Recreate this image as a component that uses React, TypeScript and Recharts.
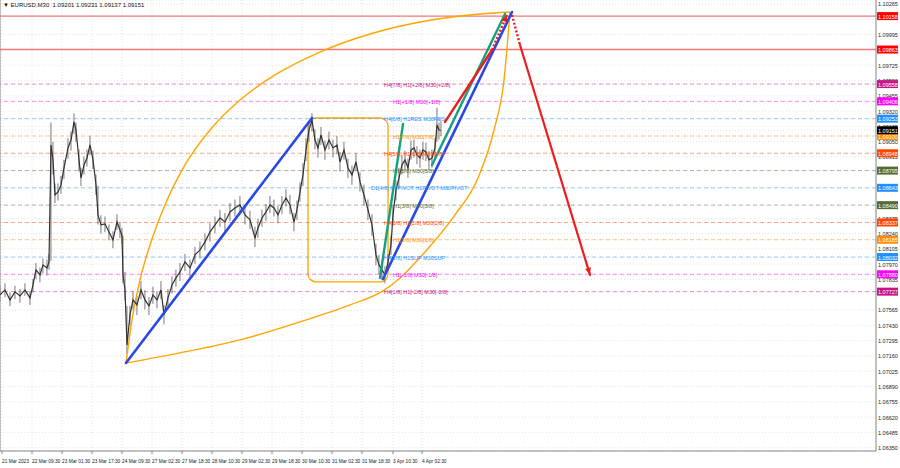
import React from 'react'
import {
  ComposedChart,
  Line,
  Bar,
  XAxis,
  YAxis,
  CartesianGrid,
  ReferenceLine,
  ReferenceArea,
  ReferenceDot,
} from 'recharts'

// M30 candles, sampled: x = bar slot on the chart
const barX = [
  0, 5, 10, 15, 20, 25, 30, 33, 36, 40, 43, 47, 49, 51, 53, 55, 58, 61, 64, 68,
  71, 74, 76, 79, 81, 84, 87, 90, 93, 96, 98, 101, 105, 109, 113, 117, 120, 122, 123, 125,
  127, 130, 133, 137, 141, 145, 149, 153, 157, 161, 164, 168, 172, 176, 180, 185, 190, 195, 200, 205,
  210, 215, 220, 225, 230, 235, 240, 245, 250, 255, 258, 262, 266, 270, 274, 278, 282, 286, 290, 294,
  297, 300, 303, 306, 309, 312, 315, 318, 321, 325, 329, 333, 337, 340, 344, 348, 352, 356, 360, 364,
  368, 372, 376, 379, 382, 385, 388, 391, 393, 396, 399, 402, 405, 408, 411, 414, 417, 420, 423, 426,
  429, 432, 435, 437, 439, 441,
]
const closePrice = [
  1.07698, 1.07742, 1.07654, 1.07725, 1.07689, 1.07742, 1.07672, 1.07786, 1.07919, 1.07875, 1.07963, 1.07936, 1.07989, 1.09021, 1.08889, 1.0858, 1.08607, 1.08668, 1.08818, 1.08995,
  1.09065, 1.09224, 1.09153, 1.08889, 1.0873, 1.08845, 1.08906, 1.09021, 1.08889, 1.08668, 1.08404, 1.08316, 1.08324, 1.08254, 1.08183, 1.08342, 1.08271, 1.08219, 1.07875, 1.07742,
  1.07257, 1.07522, 1.07654, 1.0761, 1.07742, 1.07654, 1.07601, 1.07698, 1.07654, 1.07742, 1.07522, 1.07672, 1.07786, 1.07848, 1.07901, 1.07989, 1.07936, 1.08051, 1.08095, 1.08166,
  1.08254, 1.08316, 1.08377, 1.08342, 1.0843, 1.08465, 1.08492, 1.08404, 1.0836, 1.08201, 1.08289, 1.08377, 1.0843, 1.08492, 1.08465, 1.08404, 1.08492, 1.08554, 1.08492, 1.08342,
  1.08448, 1.08607, 1.08757, 1.08977, 1.09153, 1.09242, 1.09065, 1.08995, 1.09109, 1.08977, 1.09065, 1.08995, 1.09021, 1.08871, 1.08977, 1.08818, 1.08757, 1.08871, 1.08695, 1.0858,
  1.08448, 1.08316, 1.08051, 1.07963, 1.07919, 1.07875, 1.07989, 1.08139, 1.08404, 1.08624, 1.0873, 1.08845, 1.08889, 1.08818, 1.08977, 1.08995, 1.08933, 1.08906, 1.08977, 1.08959,
  1.08889, 1.08906, 1.08995, 1.09198, 1.09153, 1.09151,
]
const lowPrice = [
  1.0764, 1.0768, 1.076, 1.0766, 1.0763, 1.0769, 1.0761, 1.0772, 1.0784, 1.0781, 1.0789, 1.0787, 1.0792, 1.08, 1.0876, 1.0851, 1.0853, 1.0859, 1.0872, 1.089,
  1.0897, 1.0912, 1.0905, 1.0879, 1.0866, 1.0876, 1.0883, 1.0893, 1.0881, 1.0858, 1.0832, 1.0824, 1.0825, 1.0818, 1.0811, 1.0827, 1.082, 1.0815, 1.078, 1.0765,
  1.0718, 1.0743, 1.0757, 1.0752, 1.0766, 1.0757, 1.0752, 1.0762, 1.0758, 1.0766, 1.0744, 1.0759, 1.0771, 1.0777, 1.0782, 1.0791, 1.0786, 1.0797, 1.0802, 1.0809,
  1.0817, 1.0824, 1.083, 1.0826, 1.0835, 1.0839, 1.0842, 1.0832, 1.0828, 1.0812, 1.082, 1.083, 1.0835, 1.0842, 1.0839, 1.0833, 1.0841, 1.0848, 1.0841, 1.0826,
  1.0836, 1.0852, 1.0866, 1.0888, 1.0905, 1.0914, 1.0898, 1.0891, 1.0902, 1.0889, 1.0898, 1.0891, 1.0894, 1.0879, 1.0889, 1.0873, 1.0867, 1.0879, 1.0861, 1.0849,
  1.0836, 1.0822, 1.0796, 1.0788, 1.0783, 1.078, 1.0791, 1.0805, 1.0831, 1.0853, 1.0864, 1.0876, 1.088, 1.0873, 1.0889, 1.0891, 1.0885, 1.0882, 1.0889, 1.0888,
  1.088, 1.0882, 1.0891, 1.0905, 1.0907, 1.091,
]
const highPrice = [
  1.0778, 1.078, 1.0772, 1.0778, 1.0775, 1.078, 1.0773, 1.0784, 1.0798, 1.0794, 1.0802, 1.0801, 1.0806, 1.0922, 1.0905, 1.0868, 1.0868, 1.0875, 1.0889, 1.0908,
  1.0914, 1.093, 1.0922, 1.0898, 1.0882, 1.0892, 1.0898, 1.091, 1.0897, 1.0876, 1.0866, 1.084, 1.0839, 1.0832, 1.0826, 1.0841, 1.0834, 1.0829, 1.0822, 1.079,
  1.076, 1.076, 1.0773, 1.0769, 1.0782, 1.0774, 1.0768, 1.0777, 1.0773, 1.0782, 1.0761, 1.0775, 1.0786, 1.0792, 1.0798, 1.0806, 1.0801, 1.0812, 1.0817, 1.0824,
  1.0833, 1.0839, 1.0845, 1.0842, 1.0851, 1.0854, 1.0857, 1.0848, 1.0844, 1.083, 1.0837, 1.0845, 1.085, 1.0857, 1.0854, 1.0848, 1.0857, 1.0863, 1.0858, 1.0842,
  1.0853, 1.0869, 1.0886, 1.0908, 1.0922, 1.093, 1.0916, 1.0908, 1.0918, 1.0906, 1.0914, 1.0907, 1.091, 1.0896, 1.0905, 1.089, 1.0884, 1.0895, 1.0878, 1.0867,
  1.0854, 1.0841, 1.0815, 1.0805, 1.08, 1.0795, 1.0806, 1.0822, 1.0849, 1.0871, 1.0882, 1.0893, 1.0897, 1.089, 1.0906, 1.0907, 1.0901, 1.0898, 1.0905, 1.0904,
  1.0897, 1.0898, 1.0908, 1.0935, 1.0922, 1.0923,
]

const timeTickX = [2, 32, 62, 92, 122, 152, 182, 212, 242, 272, 302, 332, 362, 393, 422]
const timeLabels = [
  '21 Mar 2023', '22 Mar 09:30', '23 Mar 01:30', '23 Mar 17:30', '24 Mar 09:30',
  '27 Mar 02:30', '27 Mar 18:30', '28 Mar 10:30', '29 Mar 02:30', '29 Mar 18:30',
  '30 Mar 10:30', '31 Mar 02:30', '31 Mar 18:30', '3 Apr 10:30', '4 Apr 02:30',
]

const priceTicks = [
  1.10265, 1.1013, 1.09995, 1.0986, 1.09725, 1.0959, 1.09455, 1.0932, 1.09185, 1.0905,
  1.08915, 1.0878, 1.08645, 1.0851, 1.08375, 1.0824, 1.08105, 1.0797, 1.07835, 1.077,
  1.07565, 1.0743, 1.07295, 1.0716, 1.07025, 1.0689, 1.06755, 1.0662, 1.06485, 1.0635,
]

const targetLevels = [1.10158, 1.09863]
const lastPrice = 1.09151

const levelPrice = [1.09558, 1.09406, 1.09253, 1.091, 1.08948, 1.08795, 1.08643, 1.0849, 1.08337, 1.08185, 1.08032, 1.0788, 1.07727]
const levelColor = ['#c71585', '#ff00ff', '#1e90ff', '#ff8c00', '#ff4500', '#556b2f', '#1e90ff', '#556b2f', '#ff4500', '#ff8c00', '#1e90ff', '#ff00ff', '#c71585']
const levelText = [
  'H4[7/8] H1[+2/8] M30[+2/8]',
  'H1[+1/8] M30[+1/8]',
  'H4[6/8] H1RES M30RES',
  'H1[7/8] M30[7/8]',
  'H4[5/8] H1[6/8] M30[6/8]',
  'H1[5/8] M30[5/8]',
  'D1[4/8] H4PIVOT H1PIVOT M30PIVOT',
  'H1[3/8] M30[3/8]',
  'H4[3/8] H1[2/8] M30[2/8]',
  'H1[1/8] M30[1/8]',
  'H4[2/8] H1SUP M30SUP',
  'H1[-1/8] M30[-1/8]',
  'H4[1/8] H1[-2/8] M30[-2/8]',
]
const levelTextX = [384, 393, 384, 393, 384, 393, 371, 393, 384, 393, 384, 393, 384]

// wave lines [x1, p1, x2, p2]
const blueWaves = [
  [126, 1.07098, 312, 1.09259],
  [383, 1.07839, 512, 1.10194],
]
const greenWaves = [
  [380, 1.07848, 403, 1.09206],
  [432, 1.08845, 505, 1.10177],
]
const redUp = [445, 1.09224, 492, 1.09859]
const redUpDotted = [492, 1.09859, 507, 1.10168]
const redDownDotted = [512, 1.10168, 520, 1.09903]
const redDown = [520, 1.09903, 590, 1.07875]

// time / price arcs
const arcUpperX = [126, 132, 140, 150, 165, 185, 210, 240, 275, 320, 370, 420, 470, 510]
const arcUpperP = [1.07098, 1.07478, 1.0783, 1.08139, 1.08492, 1.08845, 1.09153, 1.09418, 1.09639, 1.09841, 1.1, 1.10106, 1.10168, 1.10194]
const arcLowerX = [127, 180, 240, 300, 350, 383, 400, 425, 455, 478, 494, 504, 510]
const arcLowerP = [1.07098, 1.07187, 1.07301, 1.0746, 1.0761, 1.07733, 1.07848, 1.08077, 1.08404, 1.0873, 1.09153, 1.09594, 1.10194]

const boxX = [308, 388]
const boxP = [1.07813, 1.09259]

const priceData = barX.map((x, i) => ({ x, close: closePrice[i], range: [lowPrice[i], highPrice[i]] }))
const arcUpper = arcUpperX.map((x, i) => ({ x, p: arcUpperP[i] }))
const arcLower = arcLowerX.map((x, i) => ({ x, p: arcLowerP[i] }))

const boxed = [...levelPrice, ...targetLevels, lastPrice]
const axisTicks = [...priceTicks.filter((t) => boxed.every((b) => Math.abs(b - t) > 0.0003)), ...boxed]

const FONT = '"Liberation Sans", Arial, sans-serif'

function boxColor(v: number) {
  if (Math.abs(v - lastPrice) < 1e-7) return '#000000'
  if (targetLevels.some((t) => Math.abs(t - v) < 1e-7)) return '#ff0000'
  const i = levelPrice.findIndex((t) => Math.abs(t - v) < 1e-7)
  return i >= 0 ? levelColor[i] : null
}

function PriceTick(props: any) {
  const { x, y, payload } = props
  const v = payload.value as number
  const c = boxColor(v)
  if (c) {
    return (
      <g>
        <rect x={x} y={y - 4} width={21} height={8} fill={c} />
        <text x={x + 1} y={y + 0.5} fontSize={5.5} fontFamily={FONT} fill="#fff" dominantBaseline="central">
          {v.toFixed(5)}
        </text>
      </g>
    )
  }
  return (
    <text x={x + 1} y={y + 0.5} fontSize={5.5} fontFamily={FONT} fill="#222" dominantBaseline="central">
      {v.toFixed(5)}
    </text>
  )
}

function TimeTick(props: any) {
  const { x, y, payload } = props
  const i = timeTickX.indexOf(payload.value)
  return (
    <text x={x} y={y + 5} fontSize={4.8} fontFamily={FONT} fill="#222" textAnchor="start" dominantBaseline="central">
      {timeLabels[i]}
    </text>
  )
}

function segShape(color: string, width: number, dash?: string, arrow?: boolean) {
  return (p: any) => {
    const { x1, y1, x2, y2 } = p
    let head = null
    if (arrow) {
      const a = Math.atan2(y2 - y1, x2 - x1)
      const len = 7
      const w = 3
      const bx = x2 - len * Math.cos(a)
      const by = y2 - len * Math.sin(a)
      head = (
        <polygon
          points={`${x2},${y2} ${bx + w * Math.sin(a)},${by - w * Math.cos(a)} ${bx - w * Math.sin(a)},${by + w * Math.cos(a)}`}
          fill={color}
        />
      )
    }
    return (
      <g>
        <line x1={x1} y1={y1} x2={x2} y2={y2} stroke={color} strokeWidth={width} strokeDasharray={dash} strokeLinecap={dash ? 'butt' : 'round'} />
        {head}
      </g>
    )
  }
}

function hLine(color: string, width: number, opacity: number, dash?: string) {
  return (p: any) => (
    <line x1={p.x1} y1={p.y1} x2={p.x2} y2={p.y2} stroke={color} strokeWidth={width} strokeOpacity={opacity} strokeDasharray={dash} />
  )
}

function seg(s: number[]) {
  return [
    { x: s[0], y: s[1] },
    { x: s[2], y: s[3] },
  ]
}

export default function App() {
  return (
    <div style={{ position: 'absolute', left: 0, top: 0, width: 900, height: 468, background: '#fff' }}>
      <ComposedChart width={900} height={468} data={priceData} margin={{ top: 0, right: 0, bottom: 0, left: 0 }}>
        <CartesianGrid stroke="#e4e4e4" strokeDasharray="1 2" />
        <XAxis
          dataKey="x"
          type="number"
          domain={[0, 876]}
          ticks={timeTickX}
          interval={0}
          height={17}
          tickSize={3}
          tickLine={{ stroke: '#888' }}
          axisLine={{ stroke: '#888' }}
          tick={(p: any) => <TimeTick {...p} />}
          allowDataOverflow
        />
        <YAxis
          orientation="right"
          type="number"
          domain={[1.06321, 1.103]}
          ticks={axisTicks}
          interval={0}
          width={24}
          tickSize={0}
          tickMargin={1}
          tickLine={false}
          axisLine={{ stroke: '#888' }}
          tick={(p: any) => <PriceTick {...p} />}
          allowDataOverflow
        />
        <ReferenceLine x={0} stroke="#888" />

        {targetLevels.map((v) => (
          <ReferenceLine key={'r' + v} y={v} shape={hLine('#f46a6a', 1.4, 0.9)} />
        ))}
        {levelPrice.map((v, i) => (
          <ReferenceLine key={'l' + v} y={v} shape={hLine(levelColor[i], 1, 0.45, '4 3')} />
        ))}
        {levelPrice.map((v, i) => (
          <ReferenceDot
            key={'t' + v}
            x={levelTextX[i]}
            y={v}
            r={0}
            shape={(p: any) => (
              <text x={p.cx} y={p.cy + 0.5} fontSize={5.5} fontFamily={FONT} fill={levelColor[i]} dominantBaseline="central">
                {levelText[i]}
              </text>
            )}
          />
        ))}

        <ReferenceArea
          x1={boxX[0]}
          x2={boxX[1]}
          y1={boxP[0]}
          y2={boxP[1]}
          shape={(p: any) => (
            <rect x={p.x} y={p.y} width={p.width} height={p.height} rx={8} ry={8} fill="none" stroke="#ffa500" strokeWidth={1.3} />
          )}
        />

        <Line data={arcUpper} dataKey="p" type="monotone" stroke="#ffa500" strokeWidth={1.4} dot={false} activeDot={false} isAnimationActive={false} />
        <Line data={arcLower} dataKey="p" type="monotone" stroke="#ffa500" strokeWidth={1.4} dot={false} activeDot={false} isAnimationActive={false} />

        <Bar dataKey="range" barSize={2} fill="#6a6a6a" isAnimationActive={false} />
        <Line dataKey="close" type="linear" stroke="#333" strokeWidth={1.2} dot={false} activeDot={false} isAnimationActive={false} />

        {blueWaves.map((s, i) => (
          <ReferenceLine key={'b' + i} segment={seg(s)} shape={segShape('#2a48e6', 2.6)} />
        ))}
        {greenWaves.map((s, i) => (
          <ReferenceLine key={'g' + i} segment={seg(s)} shape={segShape('#12a37c', 2.4)} />
        ))}
        <ReferenceLine segment={seg(redUp)} shape={segShape('#ee1c1c', 2.4)} />
        <ReferenceLine segment={seg(redUpDotted)} shape={segShape('#ee1c1c', 2.4, '2 2', true)} />
        <ReferenceLine segment={seg(redDownDotted)} shape={segShape('#ee1c1c', 2.4, '2 2')} />
        <ReferenceLine segment={seg(redDown)} shape={segShape('#ee1c1c', 2.2, undefined, true)} />
      </ComposedChart>
      <div
        style={{
          position: 'absolute',
          left: 3,
          top: 2,
          fontFamily: FONT,
          fontSize: 6,
          color: '#111',
          whiteSpace: 'pre',
        }}
      >
        {'▼ EURUSD,M30  1.09201 1.09231 1.09137 1.09151'}
      </div>
    </div>
  )
}
